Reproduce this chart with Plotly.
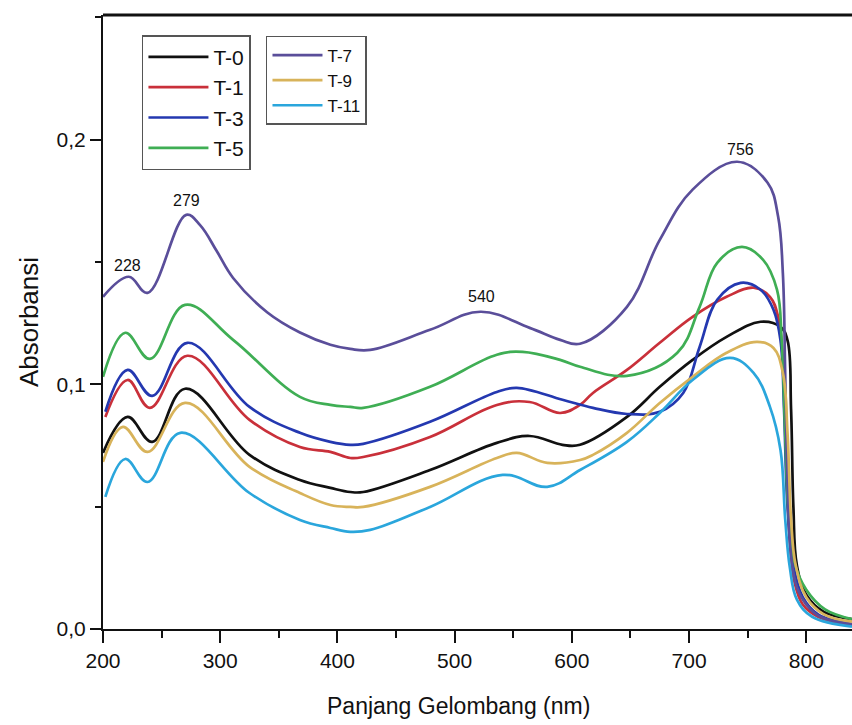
import plotly.graph_objects as go

# UV-Vis absorbance spectra, wavelength (nm) -> absorbance
wl_t0 = [200, 221, 242, 270, 325, 368, 394, 411, 422, 479, 536, 564, 592, 607, 647, 675, 703, 732, 761, 778, 784, 787, 789, 792, 800, 815, 839]
ab_t0 = [0.072, 0.0867, 0.0765, 0.0982, 0.0712, 0.0609, 0.0577, 0.056, 0.056, 0.065, 0.0761, 0.0789, 0.0753, 0.0753, 0.0867, 0.099, 0.110, 0.1194, 0.1256, 0.1235, 0.118, 0.09, 0.05, 0.026, 0.014, 0.007, 0.004]

wl_t1 = [202, 221, 240, 272, 325, 368, 394, 411, 422, 479, 536, 564, 590, 607, 618, 647, 675, 703, 732, 755, 769, 776, 780, 783, 786, 790, 797, 810, 839]
ab_t1 = [0.0867, 0.1018, 0.0904, 0.1117, 0.0855, 0.0744, 0.0724, 0.0699, 0.0703, 0.0785, 0.0916, 0.0928, 0.0883, 0.0916, 0.0965, 0.1059, 0.117, 0.1276, 0.1358, 0.1395, 0.1358, 0.1276, 0.11, 0.07, 0.035, 0.019, 0.01, 0.005, 0.0015]

wl_t3 = [202, 221, 242, 272, 325, 368, 394, 411, 422, 479, 536, 553, 592, 618, 647, 675, 695, 709, 724, 744, 761, 772, 778, 781, 784, 789, 797, 810, 839]
ab_t3 = [0.0888, 0.1059, 0.0953, 0.117, 0.0908, 0.0802, 0.0765, 0.0753, 0.0757, 0.0847, 0.0969, 0.0986, 0.0937, 0.0904, 0.0879, 0.0888, 0.0965, 0.1153, 0.1346, 0.1415, 0.1387, 0.1305, 0.118, 0.09, 0.05, 0.026, 0.013, 0.006, 0.002]

wl_t5 = [200, 219, 240, 270, 311, 368, 394, 411, 422, 479, 536, 558, 590, 607, 647, 690, 709, 724, 745, 763, 775, 779, 782, 785, 790, 800, 816, 839]
ab_t5 = [0.1031, 0.1211, 0.1104, 0.1325, 0.1182, 0.0949, 0.0916, 0.0908, 0.0904, 0.099, 0.1121, 0.1133, 0.110, 0.1072, 0.1035, 0.1129, 0.1317, 0.1497, 0.1562, 0.151, 0.1387, 0.118, 0.08, 0.046, 0.027, 0.016, 0.008, 0.004]

wl_t7 = [200, 222, 238, 271, 283, 297, 311, 340, 368, 394, 411, 428, 479, 522, 564, 590, 607, 647, 675, 703, 741, 767, 776, 780, 782, 784, 787, 792, 800, 812, 839]
ab_t7 = [0.1358, 0.144, 0.1374, 0.1693, 0.165, 0.1545, 0.1435, 0.1295, 0.1212, 0.1162, 0.1145, 0.1141, 0.1223, 0.1297, 0.1231, 0.1182, 0.1166, 0.1317, 0.1591, 0.1796, 0.191, 0.1824, 0.1685, 0.1456, 0.1047, 0.06, 0.03, 0.017, 0.01, 0.005, 0.002]

wl_t9 = [200, 217, 238, 270, 325, 368, 394, 411, 422, 479, 536, 553, 579, 607, 618, 647, 675, 703, 732, 758, 772, 780, 784, 787, 791, 800, 815, 839]
ab_t9 = [0.0683, 0.0826, 0.0724, 0.0924, 0.0663, 0.0556, 0.0507, 0.0499, 0.0499, 0.0581, 0.0699, 0.072, 0.0679, 0.0691, 0.0712, 0.0802, 0.0924, 0.1031, 0.1129, 0.1174, 0.1149, 0.1047, 0.08, 0.045, 0.026, 0.013, 0.006, 0.003]

wl_t11 = [202, 219, 238, 266, 325, 368, 394, 411, 428, 479, 541, 579, 607, 647, 675, 703, 735, 755, 769, 778, 782, 786, 792, 805, 839]
ab_t11 = [0.054, 0.0695, 0.0601, 0.0802, 0.0556, 0.0446, 0.0413, 0.0397, 0.0405, 0.0499, 0.063, 0.0581, 0.065, 0.0765, 0.0883, 0.1018, 0.1108, 0.1047, 0.0908, 0.0732, 0.045, 0.025, 0.012, 0.005, 0.001]

names = ["T-0", "T-1", "T-3", "T-5", "T-7", "T-9", "T-11"]
colors = ["#111111", "#c9303a", "#2438b0", "#3fae54", "#5a4e9a", "#d8b35a", "#2aa6dc"]
legend_ids = ["legend", "legend", "legend", "legend", "legend2", "legend2", "legend2"]
series = [(wl_t0, ab_t0), (wl_t1, ab_t1), (wl_t3, ab_t3), (wl_t5, ab_t5),
          (wl_t7, ab_t7), (wl_t9, ab_t9), (wl_t11, ab_t11)]

# peak labels on the T-7 spectrum: (text, x position nm, y position)
peak_text = ["228", "279", "540", "756"]
peak_x = [220.5, 271, 522.5, 744]
peak_y = [0.1485, 0.175, 0.1358, 0.196]

FONT = "Liberation Sans, Arial, sans-serif"

fig = go.Figure()
for name, col, lg, (wl, ab) in zip(names, colors, legend_ids, series):
    fig.add_trace(go.Scatter(
        x=wl, y=ab, name=name, mode="lines",
        line=dict(color=col, width=2.7, shape="spline", smoothing=1.1),
        legend=lg,
    ))

for t, px, py in zip(peak_text, peak_x, peak_y):
    fig.add_annotation(x=px, y=py, text=t, showarrow=False,
                       font=dict(family=FONT, size=16, color="#111"))

fig.add_annotation(xref="paper", yref="paper", x=(458 - 103) / 749, y=-0.125,
                   text="Panjang Gelombang (nm)", showarrow=False,
                   xanchor="center", yanchor="middle",
                   font=dict(family=FONT, size=23, color="#111"))

# thick upper frame line
fig.add_shape(type="line", xref="paper", yref="paper", x0=0, x1=1, y0=1, y1=1,
              line=dict(color="#111", width=3))

fig.update_layout(
    width=852, height=725,
    margin=dict(l=103, r=0, t=15, b=96),
    paper_bgcolor="white", plot_bgcolor="white",
    separators=",.",
    font=dict(family=FONT, color="#111"),
    showlegend=True,
    legend=dict(x=0.052, y=0.967, xanchor="left", yanchor="top",
                bgcolor="white", bordercolor="#555", borderwidth=1.5,
                font=dict(size=21, family=FONT), itemwidth=60, tracegroupgap=0),
    legend2=dict(x=0.2176, y=0.9658, xanchor="left", yanchor="top",
                 bgcolor="white", bordercolor="#555", borderwidth=1.5,
                 font=dict(size=17, family=FONT), itemwidth=50, tracegroupgap=0),
    xaxis=dict(range=[200, 839], dtick=100, tick0=200, showgrid=False, zeroline=False,
               showline=True, linecolor="#111", linewidth=2,
               ticks="outside", ticklen=12, tickwidth=2, tickcolor="#111",
               tickfont=dict(size=21, family=FONT, color="#111"),
               minor=dict(dtick=50, ticks="outside", ticklen=7, tickwidth=2, tickcolor="#111")),
    yaxis=dict(range=[0, 0.251], dtick=0.1, tick0=0, tickformat=".1f",
               showgrid=False, zeroline=False,
               showline=True, linecolor="#111", linewidth=2,
               ticks="outside", ticklen=11, tickwidth=2, tickcolor="#111",
               tickfont=dict(size=21, family=FONT, color="#111"),
               minor=dict(dtick=0.05, ticks="outside", ticklen=6, tickwidth=2, tickcolor="#111"),
               title=dict(text="Absorbansi", font=dict(size=26, family=FONT, color="#111"),
                          standoff=10)),
)

fig.write_html("out.html")
